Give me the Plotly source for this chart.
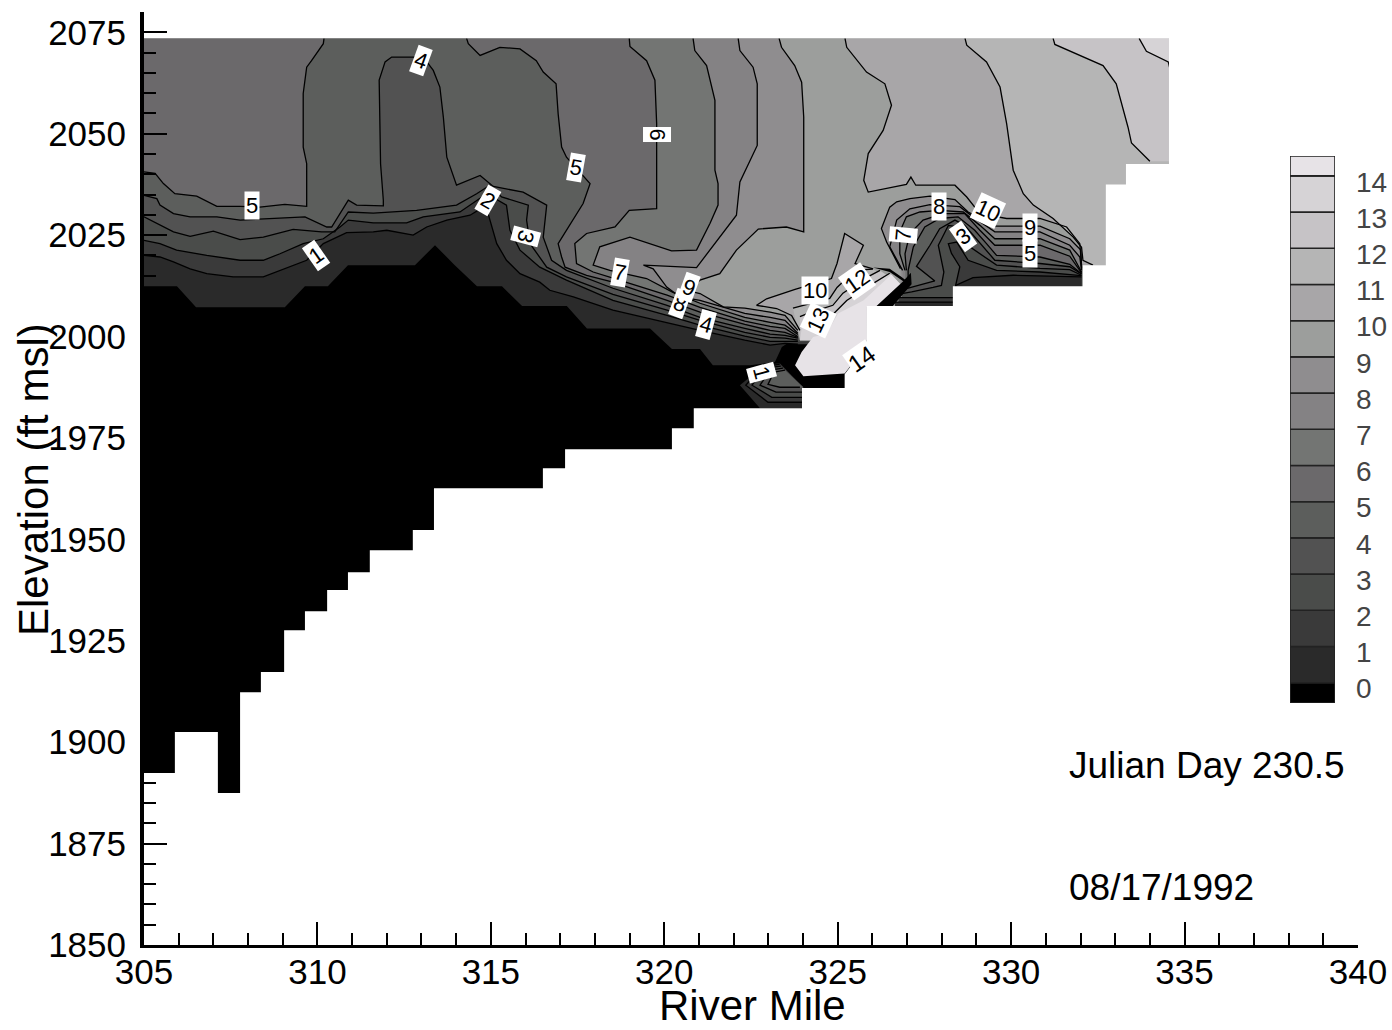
import plotly.graph_objects as go

# ---------- data: (river mile, elevation ft msl) ----------
DOMAIN_TOP = 2073.5
DOMAIN_RIGHT = 334.55

bed_outline = [(305,1892.4),(305.89,1892.4),(305.89,1902.5),(307.13,1902.5),(307.13,1887.5),(307.77,1887.5),
 (307.77,1912.3),(308.37,1912.3),(308.37,1917.3),(309.04,1917.3),(309.04,1927.6),(309.64,1927.6),(309.64,1932.3),
 (310.28,1932.3),(310.28,1937.5),(310.88,1937.5),(310.88,1941.9),(311.51,1941.9),(311.51,1947.3),(312.75,1947.3),
 (312.75,1952.3),(313.36,1952.3),(313.36,1962.6),(316.5,1962.6),(316.5,1967.5),(317.14,1967.5),(317.14,1972.2),
 (320.22,1972.2),(320.22,1977.4),(320.85,1977.4),(320.85,1982.3),(323.97,1982.3),(323.97,1987.3),(325.2,1987.3),
 (325.2,1990.7),(325.84,1997.9),(325.84,2007.5),(328.32,2007.5),(328.32,2012.4),(332.07,2012.4),(332.07,2017.6),
 (332.73,2017.6),(332.73,2037.5),(333.31,2037.5),(333.31,2042.5),(334.55,2042.5),(334.55,2073.5)]

iso_0 = [(305,2012.4),(305.95,2012.4),(306.5,2007.2),(309.06,2007.2),(309.64,2012.4),(310.3,2012.4),(310.88,2017.6),
 (312.81,2017.6),(313.39,2022.5),(313.96,2017.6),(314.6,2012.4),(315.32,2012.4),(315.9,2007.5),(317.19,2007.5),
 (317.77,2002),(319.59,2002),(320.22,1996.9),(321.03,1996.9),(321.4,1992.9),(322.47,1992.9),(323.19,1993.7),
 (323.39,1997.4),(323.91,2000.3)]

iso_1 = [(305,2020),(305.46,2019.6),(305.85,2018.4),(306.33,2016.7),(306.81,2015.5),(307.57,2014.7),(308.44,2014.7),
 (308.92,2016.3),(309.69,2018.8),(310.17,2022.9),(310.84,2025.6),(311.61,2025.8),(312,2026.2),(312.76,2025),
 (313.15,2027),(313.73,2028.7),(314.4,2029.9),(314.78,2031.9),(314.92,2030.3),(315.17,2022.9),(315.45,2018.8),
 (315.84,2015.5),(316.41,2013.4),(316.7,2011.4),(317.38,2009.8),(318.52,2006.5),(320.08,2003.3),(321.03,2001.5),
 (322.32,1999.1),(323.05,1997.9),(323.48,1998.3),(323.85,1998.1)]

iso_2 = [(305,2023.7),(305.46,2022.9),(305.94,2021.3),(306.81,2020),(307.77,2018.8),(308.44,2018.8),(308.92,2020.4),
 (309.59,2022.9),(310.17,2024.1),(310.65,2027),(310.89,2028.7),(311.61,2028),(312.57,2028),(313.05,2029.5),
 (314.11,2030.7),(314.59,2033.6),(314.88,2035.2),(315.45,2032.4),(315.55,2026.2),(315.84,2021.3),(316.41,2017.1),
 (317.18,2013.9),(318.52,2008.9),(320.08,2005.2),(321.03,2002.8),(322.32,2000.1),(323.05,1998.8),(323.48,1998.8),
 (323.85,1998.8)]

iso_3 = [(305,2029.5),(305.37,2027.8),(305.85,2025.8),(306.33,2024.7),(307,2026),(307.77,2023.9),(308.44,2024.5),
 (309.3,2026.4),(310.12,2025.8),(310.5,2025.8),(310.89,2030.7),(311.61,2030.4),(312.86,2031.1),(314.01,2032.4),
 (314.59,2035.2),(314.97,2037.3),(315.31,2034.4),(316.08,2032.4),(316.03,2028.7),(316.13,2022.9),(316.41,2019.6),
 (316.61,2017.1),(317.18,2014.7),(318.52,2010.4),(320.08,2006.5),(321.03,2004),(322.32,2001),(323.05,1999.8),
 (323.48,1999.6),(323.85,1999.1)]

iso_4 = [(305,2034.8),(305.37,2034),(305.46,2032.4),(305.85,2030.3),(306.33,2029.5),(307.1,2029.5),(307.77,2028.7),
 (308.73,2029.1),(309.64,2029.5),(310.27,2027),(310.41,2027),(310.89,2033.6),(311.13,2032.4),(311.9,2032.2),
 (311.9,2033.6),(311.82,2042.6),(311.78,2063.2),(311.95,2067.7),(312.14,2068.9),(313.05,2068.9),(313.34,2065.6),
 (313.53,2061.5),(313.63,2054.1),(313.73,2044.2),(314.01,2037.3),(314.69,2039.7),(315.07,2037),(315.93,2035.6),
 (316.61,2032.4),(316.51,2024.5),(316.75,2018.8),(317.18,2016.3),(318.52,2011.9),(320.08,2007.7),(321.03,2004.7),
 (322.32,2002),(323.05,2000.6),(323.48,2000.3),(323.85,1999.6)]

iso_5_west = [(305,2040.6),(305.32,2040.2),(305.56,2037.7),(305.89,2035.2),(306.52,2034.6),(307.1,2032.1),(307.77,2032.1),
 (308.34,2031.9),(309.06,2032.6),(309.69,2032.1),(309.69,2042.6),(309.59,2046.7),(309.59,2059.9),(309.69,2066.4),
 (309.83,2068),(310.17,2072.2),(310.19,2073.5)]

iso_5_east = [(314.3,2073.5),(314.35,2072.2),(314.69,2069.3),(315.26,2071.3),(315.84,2070.9),(316.31,2068),(316.51,2065.2),
 (316.88,2062.3),(316.94,2054.9),(317.04,2046.7),(317.18,2044.2),(317.86,2037.7),(317.66,2032.8),(316.94,2022.9),
 (317.04,2019.6),(317.14,2017.1),(317.76,2015.1),(318.52,2013.4),(320.08,2008.9),(321.03,2006),(322.32,2003),
 (323.05,2001.5),(323.48,2001),(323.85,1999.8)]

iso_6 = [(318.99,2073.5),(319.01,2071.5),(319.49,2068),(319.73,2063.2),(319.78,2052.5),(319.78,2031.5),(318.99,2031.1),
 (318.58,2027),(317.76,2025.4),(317.42,2022.9),(317.47,2018),(317.95,2015.9),(318.52,2014.4),(320.08,2010.2),
 (321.03,2007.2),(322.32,2003.8),(323.05,2002.5),(323.48,2002),(323.85,2000)]

iso_7 = [(320.83,2073.5),(320.88,2070.5),(321.22,2066.8),(321.36,2061.5),(321.46,2058.2),(321.46,2041),(321.55,2037.7),
 (321.55,2032.4),(321.32,2027.9),(320.93,2021.3),(320.21,2021.1),(319.01,2024.5),(318.14,2022.1),(317.95,2017.6),
 (318.43,2016.3),(319.49,2014.3),(320.25,2010.9),(321.03,2008.2),(322.32,2004.7),(323.05,2003.5),(323.48,2002.8),
 (323.85,2000.5)]

iso_8 = [(322.13,2073.5),(322.18,2070.5),(322.56,2066.4),(322.68,2062.3),(322.68,2047.1),(322.18,2038.1),(322.08,2029.9),
 (321.6,2024.5),(320.93,2017),(319.4,2017.6),(319.68,2016.7),(320.07,2012.2),(320.45,2009.8),(321.03,2008.9),
 (322.32,2005.7),(323.05,2004.7),(323.48,2004),(323.85,2000.8)]

iso_9 = [(323.31,2073.5),(323.38,2071.3),(323.76,2066.8),(323.96,2062.7),(324.02,2054.1),(324.02,2025.8),(323.52,2027),
 (322.71,2026.5),(322.08,2021.3),(321.6,2015.5),(321.03,2013.9),(320.65,2011.4),(321.03,2010.6),(321.7,2007.3),
 (322.32,2007),(323.05,2006),(323.48,2005.2),(323.85,2001.5)]

iso_10_east = [(325.21,2073.5),(325.26,2071.3),(325.83,2065.2),(326.36,2062.3),(326.55,2057),(326.31,2050.8),(325.88,2045.1),
 (325.75,2038.5),(325.88,2035.6),(326.98,2037.5),(327.11,2039.3),(327.25,2037.3),(328.38,2037.3),(328.72,2034.4),
 (329.1,2030.3),(329.87,2029.1),(330.83,2029.1),(331.6,2027),(331.98,2022.9),(332.03,2017.6)]

iso_11_east = [(328.67,2073.5),(328.72,2071.8),(329.29,2067.7),(329.68,2061.5),(329.87,2052.5),(330.06,2041),(330.35,2035.2),
 (330.64,2032.4),(331.21,2029.1),(331.79,2024.5),(332.03,2022),(332.07,2018.8),(332.36,2017.6)]

iso_12_east = [(331.21,2073.5),(331.26,2072),(332.65,2066.8),(333.03,2062.3),(333.37,2051.6),(333.47,2047.7),(334,2043.2)]

iso_13_east = [(333.69,2073.5),(333.9,2070.3),(334.53,2067.7),(334.6,2065.2)]

dome_9 = [(326.81,2016.75),(326.41,2023.3),(326.26,2026.6),(326.5,2031.9),(326.7,2033.2),(327.08,2034),(327.66,2034.6),
 (328.38,2033.75),(328.76,2030.7),(329.53,2027.2),(330.83,2027.2),(331.69,2024.1),(332.01,2021.3),(332.03,2016.75)]
dome_8 = [(326.87,2016.3),(326.5,2022.1),(326.7,2028.7),(327.08,2031.5),(327.66,2032.5),(328.52,2032),(328.9,2029.5),
 (329.53,2025.8),(330.83,2025.8),(331.69,2022.5),(331.98,2019.6),(332.03,2016.3)]
dome_7 = [(326.94,2016.3),(326.79,2020.4),(326.79,2025.8),(326.98,2029.5),(327.37,2030.7),(327.94,2031.1),(328.62,2030.7),
 (329.1,2027.4),(329.53,2024.1),(330.83,2024.1),(331.69,2021.3),(332.03,2015.9)]
dome_6 = [(326.98,2016.3),(326.94,2020.4),(327.08,2025.4),(327.46,2028.7),(328.04,2030.3),(328.66,2030.3),(329.1,2026.2),
 (329.53,2022.5),(330.83,2022.5),(331.69,2019.8),(332.03,2015.7)]
dome_5 = [(326.95,2012.6),(327.03,2012.9),(327.03,2016.3),(327.18,2022.1),(327.51,2027),(327.94,2029.1),(328.47,2029.5),(328.95,2026.2),
 (329.29,2022.9),(329.58,2020),(330.83,2019.6),(331.69,2017.8),(332.03,2015.5)]
dome_4 = [(326.9,2011.6),(327.13,2012.1),(327.8,2013.7),(327.27,2017.3),(327.66,2022.5),(327.94,2026.6),(328.38,2028.7),(328.66,2027.4),
 (329,2024.1),(329.53,2018.8),(330.83,2018),(331.69,2017.2),(332.03,2015.4)]
dome_3 = [(326.85,2010.6),(327.13,2011),(327.75,2012.1),(327.99,2012.6),(328.06,2015.9),(327.9,2022.5),(328.19,2027.4),(328.52,2027),
 (328.81,2022.1),(329.58,2017.6),(330.83,2016.8),(331.69,2016.5),(332.03,2015.1)]
dome_2 = [(326.75,2009.6),(328.4,2009.6),(328.4,2012.6),(328.52,2017.2),(328.28,2020.5),(328.19,2022.9),(328.43,2023.3),
 (328.76,2018.8),(329.58,2016.3),(330.83,2015.9),(332.03,2015)]
dome_1 = [(326.65,2008.5),(328.4,2008.5),(328.4,2012.6),(328.9,2014.5),(330.06,2015.1),(331.5,2014.9),(332.03,2014.7)]

centre_10 = [(323.91,2001.5),(323.67,2005.2),(323.24,2006.9),(322.66,2007.7),(322.95,2009.3),(323.77,2011.6),(324.82,2014.3),
 (324.98,2018),(325.2,2025.4),(325.74,2022.5),(325.5,2018),(326.02,2016.7)]
centre_11 = [(323.71,2007),(324,2007.7),(324.77,2009.4),(324.98,2012.1),(325.5,2016.3),(326.01,2016.6)]
centre_12 = [(323.91,2004.9),(324.2,2005.9),(324.86,2007.7),(325.15,2010.7),(325.84,2014.6),(326.22,2016.3)]
centre_13 = [(323.97,2002.5),(324.49,2002.5),(324.83,2005.2),(325.26,2008.9),(325.93,2012.6),(326.5,2015.6)]
centre_14 = [(323.77,1992.9),(323.96,1996.2),(324.29,1999.9),(324.68,2000.7),(325.01,2005.7),(325.74,2008.9),(326.55,2015.3),
 (326.84,2012.6),(326.12,2007.5),(325.83,2007.3),(325.84,1997.9),(325.2,1990.9),(324.87,1990.7),(324.01,1990.2)]

low_pocket_0 = [(322.18,1988),(322.47,1990),(322.84,1992.9),(323.33,1993.4),(324,1987.5),(324,1982.3),(322.76,1982.3)]
low_pocket_1 = [(324,1983.8),(322.99,1983.8),(322.35,1988),(322.81,1992.4),(323.33,1993.2)]
low_pocket_2 = [(324,1985),(323.1,1985),(322.53,1988),(322.93,1992.2),(323.36,1992.7)]
low_pocket_3 = [(324,1986.3),(323.22,1986.3),(322.76,1988),(323.05,1991.7),(323.42,1992.2)]
low_pocket_4 = [(323.91,1987.5),(323.33,1987.5),(322.99,1988.2),(323.16,1991.2),(323.48,1991.7)]

cold_sliver_a = [(326.12,2007.5),(326.89,2013.6),(327.11,2015.7),(327.13,2012.9),(326.59,2007.5)]
cold_sliver_b = [(326.02,2017),(326.5,2016.7),(326.84,2014.7),(327.08,2013.1),(326.89,2013.6),(326.5,2015.9)]

label_text = ["4","5","1","2","3","5","6","7","8","9","4","1","10","13","12","7","8","3","10","9","5"]
label_mile = [312.98,308.11,309.96,314.92,316.01,317.45,319.79,318.72,320.45,320.72,321.2,322.81,324.34,324.43,325.55,326.88,327.92,328.61,329.33,330.54,330.54]
label_elev = [2068.1,2032.4,2020,2033.6,2024.7,2041.7,2049.8,2015.8,2008.2,2012.2,2003,1991.2,2011.4,2004,2013.6,2025,2032.1,2024.7,2031.1,2026.9,2020.5]
label_angle = [20,0,-35,30,105,10,90,10,20,20,15,75,0,-65,-35,-85,0,-35,25,0,0]

level_values = list(range(15))
band_colors = ["#000000","#2a2a2a","#3a3a3a","#4a4c4a","#525252","#5c5e5c","#6b696b","#737573","#848284",
               "#8f8d8f","#9c9e9c","#a8a6a8","#b5b5b5","#c6c3c6","#d6d3d6","#e7e3e7"]
band_lower = [-0.56] + level_values
band_upper = level_values + [14.55]

# ---------- figure ----------
W, H = 1392, 1030
ML, MR, MT, MB = 144, 34, 12, 85
PW, PH = W - ML - MR, H - MT - MB
fig = go.Figure()

def poly(points, color):
    xs = [p[0] for p in points]; ys = [p[1] for p in points]
    fig.add_trace(go.Scatter(x=xs, y=ys, mode="lines", fill="toself", fillcolor=color,
                             line=dict(width=0), hoverinfo="skip", showlegend=False))

def contour(points, width=1.3):
    fig.add_trace(go.Scatter(x=[p[0] for p in points], y=[p[1] for p in points], mode="lines",
                             line=dict(color="black", width=width), hoverinfo="skip", showlegend=False))

# black base
poly([(305, 1880), (DOMAIN_RIGHT, 1880), (DOMAIN_RIGHT, DOMAIN_TOP), (305, DOMAIN_TOP)], band_colors[0])

def upper_fill_west(iso, color):
    poly(iso + [(DOMAIN_RIGHT, iso[-1][1]), (DOMAIN_RIGHT, DOMAIN_TOP), (305, DOMAIN_TOP)], color)

def upper_fill_east(iso, color):
    poly(iso + [(DOMAIN_RIGHT, iso[-1][1]), (DOMAIN_RIGHT, DOMAIN_TOP)], color)

upper_fill_west(iso_0, band_colors[1])
upper_fill_west(iso_1, band_colors[2])
upper_fill_west(iso_2, band_colors[3])
upper_fill_west(iso_3, band_colors[4])
upper_fill_west(iso_4, band_colors[5])
poly(iso_5_west + [(305, DOMAIN_TOP)], band_colors[6])
upper_fill_east(iso_5_east, band_colors[6])
upper_fill_east(iso_6, band_colors[7])
upper_fill_east(iso_7, band_colors[8])
upper_fill_east(iso_8, band_colors[9])
upper_fill_east(iso_9, band_colors[10])
upper_fill_east(iso_10_east, band_colors[11])
upper_fill_east(iso_11_east, band_colors[12])
upper_fill_east(iso_12_east, band_colors[13])
upper_fill_east(iso_13_east, band_colors[14])

domes = [(9, dome_9), (8, dome_8), (7, dome_7), (6, dome_6), (5, dome_5), (4, dome_4), (3, dome_3), (2, dome_2), (1, dome_1)]
for k, d in domes:
    poly(d + [(d[-1][0], 2005), (d[0][0], 2005)], band_colors[k])

for level, c in [(11, centre_10), (12, centre_11), (13, centre_12), (14, centre_13)]:
    poly(c + [(326.84, 2012.6), (326.12, 2007.5), (325.83, 1999.1), (323.91, 1999.1)], band_colors[level])
poly(centre_14, band_colors[15])

poly(low_pocket_0, band_colors[1])
for k, p in enumerate([low_pocket_1, low_pocket_2, low_pocket_3, low_pocket_4], start=1):
    poly(p + [(324, 1987.5)], band_colors[k + 1])

poly(cold_sliver_a, band_colors[0])
poly(cold_sliver_b, band_colors[0])

for iso in [iso_1, iso_2, iso_3, iso_4, iso_5_west, iso_5_east, iso_6, iso_7, iso_8, iso_9,
            iso_10_east, iso_11_east, iso_12_east, iso_13_east,
            dome_9, dome_8, dome_7, dome_6, dome_5, dome_4, dome_3, dome_2, dome_1,
            centre_10, centre_11, centre_12, centre_13,
            low_pocket_1, low_pocket_2, low_pocket_3, low_pocket_4]:
    contour(iso)

# everything below the bed and right of the grid is empty
poly(bed_outline + [(350, DOMAIN_TOP), (350, 1840), (300, 1840), (300, 1892.4)], "#ffffff")
poly([(300, DOMAIN_TOP), (350, DOMAIN_TOP), (350, 2090), (300, 2090)], "#ffffff")

# colour key
fig.add_trace(go.Bar(x=[0] * len(band_colors), y=[u - l for l, u in zip(band_lower, band_upper)], base=band_lower,
                     width=1, marker=dict(color=band_colors, line=dict(color="#222222", width=1.6)),
                     xaxis="x2", yaxis="y2", hoverinfo="skip", showlegend=False))

annotations = []
for t, m, e, a in zip(label_text, label_mile, label_elev, label_angle):
    annotations.append(dict(x=m, y=e, xref="x", yref="y", text=t, textangle=a, showarrow=False,
                            bgcolor="white", borderpad=1,
                            font=dict(family="Liberation Sans", size=22, color="black")))
annotations.append(dict(x=325.7, y=1994.6, xref="x", yref="y", text="14", textangle=-35, showarrow=False,
                        bgcolor="white", borderpad=0,
                        font=dict(family="Liberation Sans", size=24, color="black")))
big = dict(family="Liberation Sans", size=42, color="black")
note = dict(family="Liberation Sans", size=37, color="black")
annotations += [
    dict(x=(752 - ML) / PW, y=(945 - 1005) / PH, xref="paper", yref="paper", xanchor="center", yanchor="middle",
         text="River Mile", showarrow=False, font=big),
    dict(x=(33 - ML) / PW, y=(945 - 480) / PH, xref="paper", yref="paper", xanchor="center", yanchor="middle",
         text="Elevation (ft msl)", textangle=-90, showarrow=False, font=big),
    dict(x=(1067 - ML) / PW, y=(945 - 765) / PH, xref="paper", yref="paper", xanchor="left", yanchor="middle",
         text="Julian Day 230.5", showarrow=False, font=note),
    dict(x=(1067 - ML) / PW, y=(945 - 887) / PH, xref="paper", yref="paper", xanchor="left", yanchor="middle",
         text="08/17/1992", showarrow=False, font=note),
]

axis_common = dict(showgrid=False, zeroline=False, showline=True, linecolor="black", ticks="inside",
                   tickcolor="black", tickwidth=2, ticklen=23, tickfont=dict(family="Liberation Sans", size=35, color="black"))
fig.update_layout(
    width=W, height=H, margin=dict(l=ML, r=MR, t=MT, b=MB, autoexpand=False),
    paper_bgcolor="white", plot_bgcolor="white", showlegend=False, barmode="overlay",
    annotations=annotations,
    xaxis=dict(range=[305, 340], tick0=305, dtick=5, linewidth=3, ticklabelstandoff=-6,
               minor=dict(dtick=1, ticks="inside", ticklen=12, tickwidth=2, tickcolor="black", showgrid=False), **axis_common),
    yaxis=dict(range=[1850, 2080], tick0=1850, dtick=25, linewidth=4, ticklabelstandoff=7,
               minor=dict(dtick=5, ticks="inside", ticklen=12, tickwidth=2, tickcolor="black", showgrid=False), **axis_common),
    xaxis2=dict(domain=[(1290 - ML) / PW, (1335 - ML) / PW], range=[-0.5, 0.5], anchor="y2", visible=False),
    yaxis2=dict(domain=[(945 - 703) / PH, (945 - 156) / PH], range=[-0.56, 14.55], anchor="x2", side="right",
                tickvals=[v - 0.16 for v in level_values], ticktext=[str(v) for v in level_values],
                showgrid=False, zeroline=False, showline=False, ticks="", ticklabelstandoff=20,
                tickfont=dict(family="Liberation Sans", size=28, color="#444444")),
)
fig.write_html("out.html", config={"displayModeBar": False}, post_script="document.body.style.margin='0';")
